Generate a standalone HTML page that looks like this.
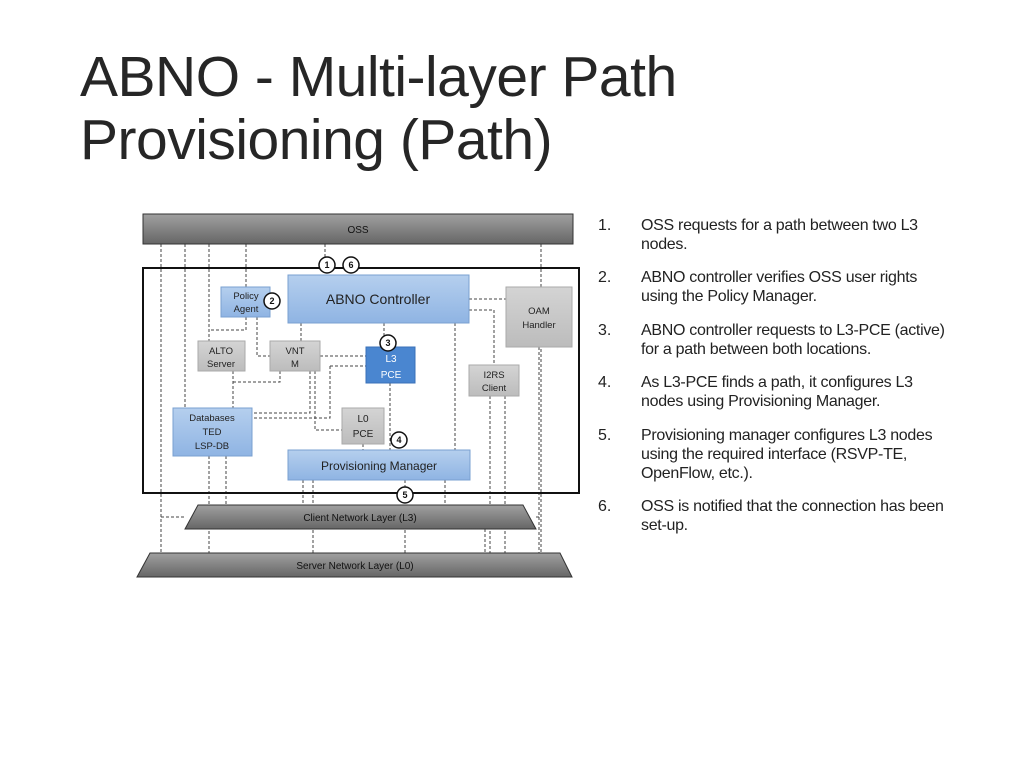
<!DOCTYPE html>
<html><head><meta charset="utf-8"><style>
body{margin:0;width:1024px;height:768px;background:#fff;position:relative;overflow:hidden;font-family:"Liberation Sans",sans-serif;}
.title{position:absolute;left:80px;top:46px;font-size:57px;line-height:63px;color:#262626;letter-spacing:-0.5px;}
.item{position:absolute;left:598px;font-size:16px;line-height:19px;color:#222;white-space:nowrap;}
.item .n{position:absolute;left:0;}
.item .t{position:absolute;left:43px;letter-spacing:-0.3px;}
svg{position:absolute;left:0;top:0;}
</style></head><body>
<div class="title">ABNO - Multi-layer Path<br>Provisioning (Path)</div>
<div class="item" style="top:216px"><span class="n">1.</span><span class="t">OSS requests for a path between two L3<br>nodes.</span></div>
<div class="item" style="top:268px"><span class="n">2.</span><span class="t">ABNO controller verifies OSS user rights<br>using the Policy Manager.</span></div>
<div class="item" style="top:321px"><span class="n">3.</span><span class="t">ABNO controller requests to L3-PCE (active)<br>for a path between both locations.</span></div>
<div class="item" style="top:373px"><span class="n">4.</span><span class="t">As L3-PCE finds a path, it configures L3<br>nodes using Provisioning Manager.</span></div>
<div class="item" style="top:426px"><span class="n">5.</span><span class="t">Provisioning manager configures L3 nodes<br>using the required interface (RSVP-TE,<br>OpenFlow, etc.).</span></div>
<div class="item" style="top:497px"><span class="n">6.</span><span class="t">OSS is notified that the connection has been<br>set-up.</span></div>
<svg width="1024" height="768" font-family="Liberation Sans,sans-serif">
<defs>
<linearGradient id="g" x1="0" y1="0" x2="0" y2="1"><stop offset="0" stop-color="#a0a0a0"/><stop offset="1" stop-color="#666"/></linearGradient>
<linearGradient id="b" x1="0" y1="0" x2="0" y2="1"><stop offset="0" stop-color="#b5cfee"/><stop offset="1" stop-color="#8fb4e3"/></linearGradient>
<linearGradient id="s" x1="0" y1="0" x2="0" y2="1"><stop offset="0" stop-color="#d4d4d4"/><stop offset="1" stop-color="#bcbcbc"/></linearGradient>
</defs>
<g stroke="#444" stroke-width="1" stroke-dasharray="3,2" fill="none">
<path d="M161 244V553M185 244V408M209 244V341M246 244V287M325 244V265M541 244V553"/>
<path d="M246 317V330H209M257 317V356H270M301 323V341M302 299H288M469 299H506M469 310H494V365M455 323V450M490 396V553M505 396V553M539 347V553"/>
<path d="M320 356H366M330 366H366M330 366V418H252M310 371V413H252M315 371V430H342M233 371V408M233 413M280 371V382H233"/>
<path d="M384 323V340M390 383V450M363 444V450M209 456V553M226 456V505M303 480V505M313 480V553M405 480V553M445 480V505M485 529V553M161 517H185M536 517H541"/>
</g>
<rect x="143" y="214" width="430" height="30" fill="url(#g)" stroke="#333"/>
<text x="358" y="233" font-size="10" text-anchor="middle" fill="#111">OSS</text>
<rect x="143" y="268" width="436" height="225" fill="none" stroke="#111" stroke-width="2"/>
<rect x="288" y="275" width="181" height="48" fill="url(#b)" stroke="#7aa0d0"/>
<text x="378" y="304" font-size="14" text-anchor="middle" fill="#222">ABNO Controller</text>
<rect x="221" y="287" width="49" height="30" fill="url(#b)" stroke="#7aa0d0"/>
<text x="246" y="299" font-size="9.5" text-anchor="middle" fill="#222">Policy</text><text x="246" y="312" font-size="9.5" text-anchor="middle" fill="#222">Agent</text>
<rect x="506" y="287" width="66" height="60" fill="url(#s)" stroke="#aaa"/>
<text x="539" y="314" font-size="9.5" text-anchor="middle" fill="#222">OAM</text><text x="539" y="328" font-size="9.5" text-anchor="middle" fill="#222">Handler</text>
<rect x="198" y="341" width="47" height="30" fill="url(#s)" stroke="#aaa"/>
<text x="221" y="354" font-size="9.5" text-anchor="middle" fill="#222">ALTO</text><text x="221" y="367" font-size="9.5" text-anchor="middle" fill="#222">Server</text>
<rect x="270" y="341" width="50" height="30" fill="url(#s)" stroke="#aaa"/>
<text x="295" y="354" font-size="9.5" text-anchor="middle" fill="#222">VNT</text><text x="295" y="367" font-size="9.5" text-anchor="middle" fill="#222">M</text>
<rect x="366" y="347" width="49" height="36" fill="#4a86d0" stroke="#3a70b8"/>
<text x="391" y="362" font-size="10" text-anchor="middle" fill="#fff">L3</text><text x="391" y="378" font-size="10" text-anchor="middle" fill="#fff">PCE</text>
<rect x="469" y="365" width="50" height="31" fill="url(#s)" stroke="#aaa"/>
<text x="494" y="378" font-size="9.5" text-anchor="middle" fill="#222">I2RS</text><text x="494" y="391" font-size="9.5" text-anchor="middle" fill="#222">Client</text>
<rect x="173" y="408" width="79" height="48" fill="url(#b)" stroke="#7aa0d0"/>
<text x="212" y="421" font-size="9.5" text-anchor="middle" fill="#222">Databases</text><text x="212" y="435" font-size="9.5" text-anchor="middle" fill="#222">TED</text><text x="212" y="449" font-size="9.5" text-anchor="middle" fill="#222">LSP-DB</text>
<rect x="342" y="408" width="42" height="36" fill="url(#s)" stroke="#aaa"/>
<text x="363" y="422" font-size="10" text-anchor="middle" fill="#222">L0</text><text x="363" y="437" font-size="10" text-anchor="middle" fill="#222">PCE</text>
<rect x="288" y="450" width="182" height="30" fill="url(#b)" stroke="#7aa0d0"/>
<text x="379" y="470" font-size="12" text-anchor="middle" fill="#222">Provisioning Manager</text>
<polygon points="198,505 523,505 536,529 185,529" fill="url(#g)" stroke="#333"/>
<text x="360" y="521" font-size="10" text-anchor="middle" fill="#111">Client Network Layer (L3)</text>
<polygon points="150,553 560,553 572,577 137,577" fill="url(#g)" stroke="#333"/>
<text x="355" y="569" font-size="10" text-anchor="middle" fill="#111">Server Network Layer (L0)</text>
<g fill="#fff" stroke="#111" stroke-width="1.5" font-size="9" font-weight="bold" text-anchor="middle">
<circle cx="327" cy="265" r="8"/><circle cx="351" cy="265" r="8"/><circle cx="272" cy="301" r="8"/><circle cx="388" cy="343" r="8"/><circle cx="399" cy="440" r="8"/><circle cx="405" cy="495" r="8"/>
</g>
<g font-size="9" font-weight="bold" text-anchor="middle" fill="#111">
<text x="327" y="268">1</text><text x="351" y="268">6</text><text x="272" y="304">2</text><text x="388" y="346">3</text><text x="399" y="443">4</text><text x="405" y="498">5</text>
</g>
</svg>
</body></html>
